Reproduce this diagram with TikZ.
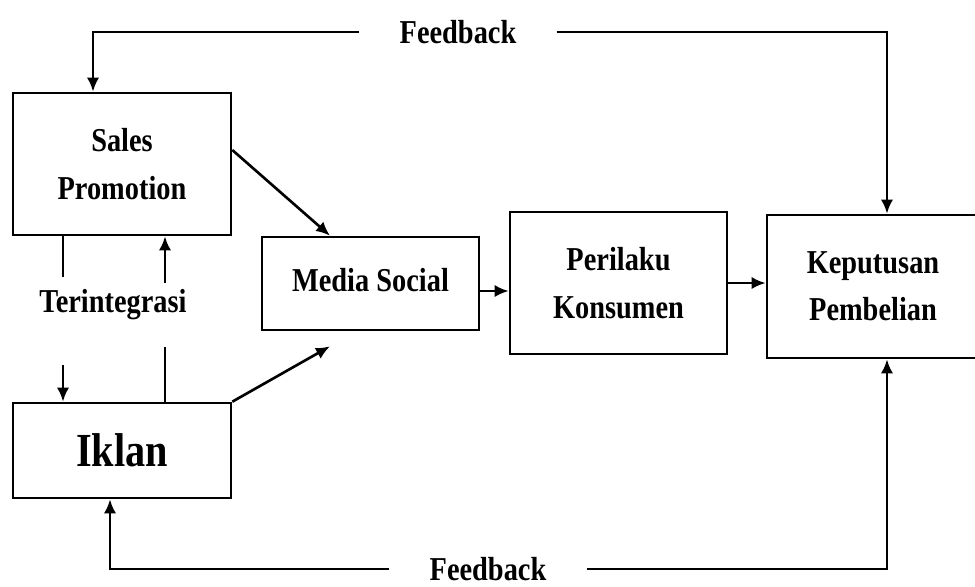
\documentclass[tikz,border=0pt]{standalone}
\usepackage{fontspec}
\setmainfont[FakeStretch=0.85]{Liberation Serif}
\usetikzlibrary{shapes, arrows, arrows.meta, positioning}
\tikzstyle{box}  = [draw, rectangle, line width=1.5pt, align=center, inner sep=0pt,
                    font=\bfseries\fontsize{19}{27}\selectfont]
\tikzstyle{conn} = [draw, line width=1.5pt, -{Latex[length=8pt, width=7pt]}]
\tikzstyle{line} = [draw, line width=1.5pt]
\tikzstyle{lbl}  = [font=\bfseries\fontsize{19}{27}\selectfont, inner xsep=0.8cm, inner ysep=0pt]

\begin{document}
\begin{tikzpicture}[x=0.02cm, y=-0.02cm]
\useasboundingbox (0,0) rectangle (975,586);

% nodes
\node [box, minimum width=4.36cm, minimum height=2.84cm] at ( 122 , 164 )   (sp) {Sales\\Promotion};
\node [box, minimum width=4.34cm, minimum height=1.86cm] at ( 370.5 , 283.5 ) (ms) {\raisebox{0.15cm}{Media Social}};
\node [box, minimum width=4.34cm, minimum height=2.84cm] at ( 618.5 , 283 ) (pk) {Perilaku\\Konsumen};
\node [box, minimum width=4.24cm, minimum height=2.86cm] at ( 873 , 286.5 )   (kp) {Keputusan\\Pembelian};
\node [box, minimum width=4.36cm, minimum height=1.90cm,
       font=\bfseries\fontsize{27}{30}\selectfont]        at ( 122 , 450.5 ) (ik) {Iklan};

\node [lbl] at ( 458 , 32 )  (fbtop) {Feedback};
\node [lbl] at ( 488 , 569 ) (fbbot) {Feedback};
\node [lbl, inner xsep=0pt] at ( 113 , 305 ) (tg) {Terintegrasi};

\coordinate (tgl1) at ( 63 , 277 );
\coordinate (tgl2) at ( 63 , 365 );
\coordinate (tgr1) at ( 165 , 283 );
\coordinate (tgr2) at ( 165 , 347 );

% edges
\path [conn] ([yshift=0.28cm]sp.east) -- ([xshift=-0.81cm]ms.north);
\path [conn] (ik.north east) -- ([xshift=-0.81cm, yshift=-0.3cm]ms.south);
\path [conn] ([yshift=-0.15cm]ms.east) -- ([yshift=-0.15cm]ms.east -| pk.west);
\path [conn] (pk.east) -- (pk.east -| kp.west);

% terintegrasi
\path [line] (sp.south -| tgl1) -- (tgl1);
\path [conn] (tgl2) -- (tgl2 |- ik.north);
\path [line] (ik.north -| tgr2) -- (tgr2);
\path [conn] (tgr1) -- (tgr1 |- sp.south);

% feedback
\path [conn] (fbtop.west) -| ([xshift=-0.58cm]sp.north);
\path [conn] (fbtop.east) -| ([xshift=0.28cm]kp.north);
\path [conn] (fbbot.west) -| ([xshift=-0.24cm]ik.south);
\path [conn] (fbbot.east) -| ([xshift=0.28cm]kp.south);

\end{tikzpicture}
\end{document}
